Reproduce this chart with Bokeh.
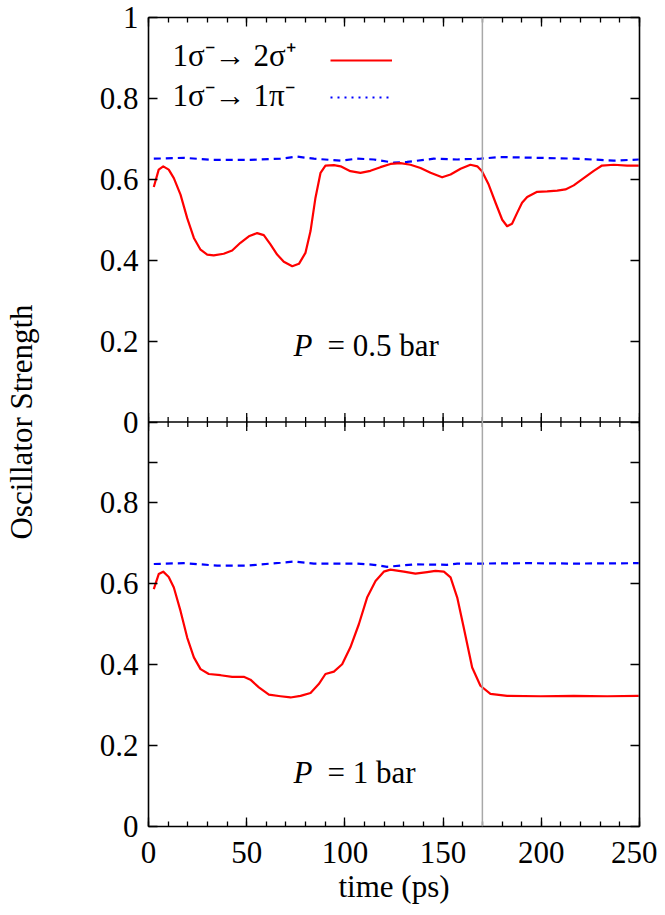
import math
from bokeh.plotting import figure
from bokeh.models import (Range1d, FixedTicker, LinearAxis, Span, Label, Legend,
                          LegendItem, ColumnDataSource, CustomJSTickFormatter)
from bokeh.transform import dodge
from bokeh.core.properties import value
from bokeh.embed import file_html
from bokeh.resources import INLINE

# ---------------- data ----------------
# Panel P = 0.5 bar : 1σ⁻→2σ⁺ (red)
t_red_05 = [2.7, 5.2, 7.5, 10.3, 12.9, 16.3, 19.7, 23.1, 26.5, 29.9, 33.2, 38.3, 42.6, 46.8,
            51.1, 55.3, 58.7, 62.1, 65.5, 68.9, 73.2, 76.6, 79.9, 82.5, 85.0, 87.6, 90.1,
            94.4, 97.8, 102.8, 107.9, 113.0, 118.1, 123.2, 128.3, 133.4, 138.5, 143.6,
            149.5, 153.8, 158.9, 163.9, 167.4, 169.8, 173.2, 176.7, 180.1, 182.6, 185.1,
            187.7, 190.2, 192.8, 197.9, 203.0, 208.1, 212.3, 216.5, 221.6, 226.7, 230.9,
            236.9, 243.7, 249.6]
f_red_05 = [0.581, 0.624, 0.632, 0.624, 0.603, 0.562, 0.504, 0.455, 0.426, 0.414, 0.412,
            0.416, 0.424, 0.443, 0.459, 0.467, 0.462, 0.439, 0.414, 0.396, 0.385, 0.391,
            0.418, 0.472, 0.554, 0.616, 0.634, 0.635, 0.632, 0.620, 0.616, 0.621, 0.630,
            0.638, 0.640, 0.636, 0.628, 0.616, 0.605, 0.612, 0.626, 0.636, 0.632, 0.620,
            0.587, 0.542, 0.500, 0.484, 0.490, 0.517, 0.542, 0.556, 0.569, 0.570, 0.572,
            0.575, 0.585, 0.603, 0.621, 0.634, 0.636, 0.634, 0.634]
# Panel P = 0.5 bar : 1σ⁻→1π⁻ (blue)
t_blue_05 = [2.7, 18.0, 33.2, 51.9, 67.2, 75.7, 84.2, 97.8, 106.2, 114.7, 124.9, 131.7,
             145.3, 157.2, 169.1, 179.3, 199.6, 216.5, 230.1, 236.9, 249.6]
f_blue_05 = [0.651, 0.653, 0.648, 0.648, 0.651, 0.656, 0.651, 0.646, 0.651, 0.649, 0.641,
             0.643, 0.651, 0.649, 0.651, 0.655, 0.653, 0.651, 0.648, 0.646, 0.649]

# Panel P = 1 bar : 1σ⁻→2σ⁺ (red)
t_red_1 = [2.7, 5.2, 7.5, 10.3, 12.9, 16.3, 19.7, 23.1, 26.5, 30.7, 36.7, 42.6, 48.5, 51.9,
           56.2, 61.3, 67.2, 72.3, 77.4, 82.5, 86.7, 90.1, 94.4, 98.6, 102.8, 107.1, 111.3,
           115.6, 119.8, 123.2, 130.0, 135.9, 141.9, 146.1, 150.4, 153.8, 157.2, 160.5,
           164.8, 169.0, 174.1, 182.6, 199.6, 216.5, 233.5, 249.6]
f_red_1 = [0.587, 0.624, 0.630, 0.617, 0.591, 0.533, 0.467, 0.418, 0.389, 0.377, 0.374,
           0.370, 0.370, 0.363, 0.344, 0.326, 0.322, 0.319, 0.323, 0.330, 0.352, 0.377,
           0.383, 0.401, 0.443, 0.500, 0.566, 0.607, 0.630, 0.635, 0.630, 0.625, 0.629,
           0.632, 0.630, 0.616, 0.566, 0.492, 0.393, 0.348, 0.328, 0.323, 0.322, 0.323,
           0.322, 0.323]
# Panel P = 1 bar : 1σ⁻→1π⁻ (blue)
t_blue_1 = [2.7, 18.0, 35.0, 50.2, 67.2, 74.0, 84.2, 106.2, 114.7, 121.5, 135.1, 152.1,
            157.2, 169.1, 192.8, 216.5, 249.6]
f_blue_1 = [0.649, 0.651, 0.645, 0.645, 0.652, 0.655, 0.650, 0.650, 0.647, 0.642, 0.648,
            0.647, 0.650, 0.650, 0.651, 0.650, 0.651]

marker_time = 170          # grey vertical line
panel_offset = 1.0         # upper panel is stacked above the lower one

x_major_ticks = [0, 50, 100, 150, 200, 250]
x_minor_ticks = list(range(0, 251, 10))
y_tick_values = [0.0, 0.2, 0.4, 0.6, 0.8]
y_tick_labels = ["0", "0.2", "0.4", "0.6", "0.8"]
y_top_extra = [(1.0, "1")]
y_bottom_extra = [0.9]

label_red = "1σ⁻→ 2σ⁺"
label_blue = "1σ⁻→ 1π⁻"
panel_top_text = "= 0.5 bar"
panel_bottom_text = "= 1 bar"

# ---------------- styling ----------------
FONT = "Liberation Serif"
FS = "31px"
RED = "#ff0000"
BLUE = "#0000ff"

p = figure(width=657, height=910, x_range=Range1d(0, 250), y_range=Range1d(0, 2),
           x_axis_type=None, y_axis_type=None, output_backend="svg",
           toolbar_location=None, min_border_left=148, min_border_right=18,
           min_border_top=17, min_border_bottom=84)
p.outline_line_color = None
p.background_fill_color = "white"

# y ticks: lower panel at value, upper panel at value + offset
y_ticks = []
overrides = {}
for v, lab in zip(y_tick_values, y_tick_labels):
    y_ticks.append(v)
    overrides[v] = lab
for v, lab in zip(y_tick_values, y_tick_labels):
    y_ticks.append(v + panel_offset)
    overrides[v + panel_offset] = lab
for v, lab in y_top_extra:
    y_ticks.append(v + panel_offset)
    overrides[v + panel_offset] = lab
for v in y_bottom_extra:
    y_ticks.append(v)
    overrides[v] = ""
y_ticks = sorted(y_ticks)

blank = CustomJSTickFormatter(code="return ''")


def style_axis(ax):
    ax.axis_line_color = "black"
    ax.axis_line_width = 1.6
    ax.major_tick_line_color = "black"
    ax.minor_tick_line_color = "black"
    ax.major_tick_line_width = 1.3
    ax.minor_tick_line_width = 1.3
    ax.major_tick_in = 9
    ax.major_tick_out = 0
    ax.minor_tick_in = 5
    ax.minor_tick_out = 0
    ax.major_label_text_font = FONT
    ax.major_label_text_font_size = FS
    ax.major_label_text_color = "black"
    ax.axis_label_text_font = FONT
    ax.axis_label_text_font_size = FS
    ax.axis_label_text_font_style = "normal"
    ax.axis_label_text_color = "black"


left = LinearAxis(ticker=FixedTicker(ticks=y_ticks, minor_ticks=[]),
                  major_label_overrides=overrides, axis_label="Oscillator Strength")
style_axis(left)
left.major_label_standoff = 10
left.axis_label_standoff = 58
right = LinearAxis(ticker=FixedTicker(ticks=y_ticks, minor_ticks=[]), formatter=blank)
style_axis(right)
right.major_label_standoff = 0
bottom = LinearAxis(ticker=FixedTicker(ticks=x_major_ticks, minor_ticks=x_minor_ticks),
                    axis_label="time (ps)")
style_axis(bottom)
bottom.major_label_standoff = 15
bottom.axis_label_standoff = 3
top = LinearAxis(ticker=FixedTicker(ticks=x_major_ticks, minor_ticks=x_minor_ticks),
                 formatter=blank)
style_axis(top)
top.major_label_standoff = 0
p.add_layout(left, "left")
p.add_layout(right, "right")
p.add_layout(bottom, "below")
p.add_layout(top, "above")

# separator between panels and its inward ticks
p.add_layout(Span(location=panel_offset, dimension="width", line_color="black",
                  line_width=1.6))
p.scatter(x=x_minor_ticks, y=[panel_offset] * len(x_minor_ticks), marker="dash",
          angle=math.pi / 2, size=10, line_color="black", line_width=1.3)
p.scatter(x=x_major_ticks, y=[panel_offset] * len(x_major_ticks), marker="dash",
          angle=math.pi / 2, size=18, line_color="black", line_width=1.3)

# grey vertical line
p.add_layout(Span(location=marker_time, dimension="height", line_color="#a8a8a8",
                  line_width=1.5))

# curves
src_red_05 = ColumnDataSource(dict(t=t_red_05, f=f_red_05))
src_blue_05 = ColumnDataSource(dict(t=t_blue_05, f=f_blue_05))
src_red_1 = ColumnDataSource(dict(t=t_red_1, f=f_red_1))
src_blue_1 = ColumnDataSource(dict(t=t_blue_1, f=f_blue_1))

p.line(x="t", y=dodge("f", panel_offset), source=src_blue_05, line_color=BLUE,
       line_width=2.2, line_dash="7 5")
r_red = p.line(x="t", y=dodge("f", panel_offset), source=src_red_05, line_color=RED,
               line_width=2.2, line_join="round")
p.line(x="t", y="f", source=src_blue_1, line_color=BLUE, line_width=2.2, line_dash="7 5")
p.line(x="t", y="f", source=src_red_1, line_color=RED, line_width=2.2, line_join="round")

# key sample for the blue transition is dotted in the original (draws nothing in the plot)
r_dot = p.line(x=[float("nan")], y=[float("nan")], line_color=BLUE, line_width=2.2,
               line_dash="2 5")

legend = Legend(items=[LegendItem(label=value(" "), renderers=[r_red]),
                       LegendItem(label=value(" "), renderers=[r_dot])],
                location=(182, 719), glyph_width=62, glyph_height=20, label_width=0,
                label_height=0, label_standoff=0, spacing=17, padding=0, margin=0,
                border_line_color=None, background_fill_alpha=0,
                label_text_font_size="1px")
p.add_layout(legend, "center")

for txt, yy in [(label_red, 1.905), (label_blue, 1.808)]:
    p.add_layout(Label(x=12.2, y=yy, text=txt, text_baseline="middle", text_font=FONT,
                       text_font_size=FS, text_color="black"))

for txt, yy in [(panel_top_text, 1.190), (panel_bottom_text, 0.134)]:
    p.add_layout(Label(x=73.8, y=yy, text="P", text_baseline="middle", text_font=FONT,
                       text_font_style="italic", text_font_size=FS, text_color="black"))
    p.add_layout(Label(x=73.8, y=yy, x_offset=34, text=txt, text_baseline="middle",
                       text_font=FONT, text_font_size=FS, text_color="black"))

open("out.html", "w").write(file_html(p, INLINE))
